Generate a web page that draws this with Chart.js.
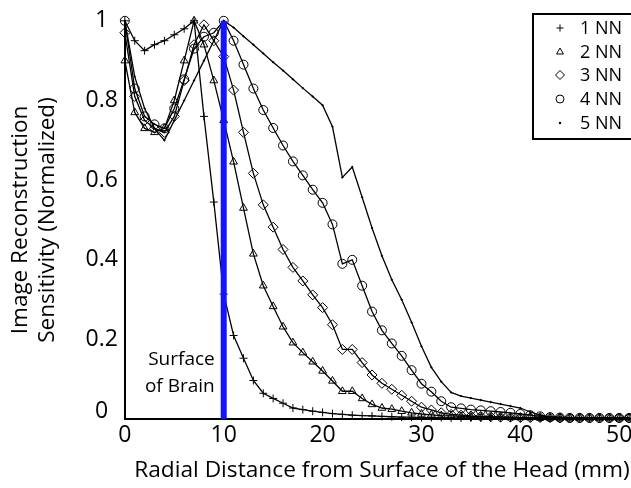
<!DOCTYPE html>
<html>
<head>
<meta charset="utf-8">
<script src="https://cdn.jsdelivr.net/npm/chart.js@4.4.1/dist/chart.umd.min.js"></script>
<style>
  html, body { margin: 0; padding: 0; background: #fff; overflow: hidden; }
  #wrap { position: relative; width: 645px; height: 488px; }
</style>
</head>
<body>
<div id="wrap"><canvas id="c"></canvas></div>
<script>
// ---- data ----
const distances = [0,1,2,3,4,5,6,7,8,9,10,11,12,13,14,15,16,17,18,19,20,21,22,23,24,25,26,27,28,29,30,31,32,33,34,35,36,37,38,39,40,41,42,43,44,45,46,47,48,49,50,51];
const nn1 = [1.0,0.95,0.925,0.94,0.95,0.965,0.98,1.0,0.76,0.545,0.314,0.21,0.153,0.097,0.065,0.052,0.04,0.028,0.024,0.02,0.017,0.014,0.012,0.01,0.009,0.008,0.007,0.006,0.005,0.005,0.004,0.004,0.004,0.003,0.003,0.003,0.003,0.003,0.003,0.003,0.003,0.003,0.003,0.003,0.003,0.003,0.003,0.003,0.003,0.003,0.003,0.003];
const nn2 = [0.9,0.77,0.73,0.72,0.73,0.80,0.90,1.0,0.94,0.85,0.75,0.646,0.53,0.415,0.335,0.283,0.232,0.192,0.167,0.144,0.121,0.096,0.07,0.07,0.052,0.037,0.028,0.025,0.02,0.016,0.013,0.011,0.009,0.008,0.007,0.006,0.006,0.005,0.005,0.004,0.004,0.004,0.003,0.003,0.003,0.003,0.003,0.003,0.003,0.003,0.003,0.003];
const nn3 = [0.97,0.81,0.75,0.73,0.72,0.76,0.85,0.94,0.99,0.95,0.91,0.826,0.72,0.617,0.538,0.482,0.426,0.381,0.347,0.312,0.28,0.237,0.175,0.175,0.142,0.111,0.09,0.075,0.06,0.045,0.03,0.023,0.016,0.012,0.01,0.008,0.007,0.006,0.005,0.005,0.004,0.004,0.004,0.004,0.003,0.003,0.003,0.003,0.003,0.003,0.003,0.003];
const nn4 = [1.0,0.83,0.76,0.74,0.73,0.78,0.853,0.93,0.96,0.97,1.0,0.95,0.89,0.83,0.776,0.731,0.687,0.647,0.612,0.576,0.543,0.489,0.39,0.4,0.335,0.27,0.223,0.19,0.159,0.123,0.089,0.069,0.045,0.03,0.027,0.024,0.022,0.02,0.018,0.016,0.013,0.01,0.007,0.005,0.004,0.003,0.003,0.003,0.003,0.003,0.003,0.003];
const nn5 = [1.0,0.86,0.78,0.73,0.70,0.75,0.80,0.85,0.90,0.95,1.0,0.983,0.961,0.94,0.918,0.896,0.875,0.853,0.831,0.81,0.788,0.734,0.607,0.633,0.557,0.48,0.41,0.35,0.30,0.243,0.183,0.13,0.094,0.067,0.058,0.053,0.048,0.043,0.038,0.033,0.028,0.018,0.01,0.006,0.005,0.004,0.004,0.003,0.003,0.003,0.003,0.003];
const seriesLabels = ['1 NN','2 NN','3 NN','4 NN','5 NN'];
const brainSurface = [10];          // mm
const brainLineRange = [0, 1];      // sensitivity span of the marker line
const yTickValues = [0, 0.2, 0.4, 0.6, 0.8, 1];
const yTickLabels = ['0','0.2','0.4','0.6','0.8','1'];
const xTickValues = [0, 10, 20, 30, 40, 50];
const annotationLines = ['Surface', 'of Brain'];

const FONT = '"Open Sans", "DejaVu Sans", sans-serif';
const styles = [
  { pointStyle: 'cross',    radius: 4,   fill: 'rgba(0,0,0,0)' },
  { pointStyle: 'triangle', radius: 4.5, fill: 'rgba(0,0,0,0)' },
  { pointStyle: 'rectRot',  radius: 5,   fill: 'rgba(0,0,0,0)' },
  { pointStyle: 'circle',   radius: 4.5, fill: 'rgba(0,0,0,0)' },
  { pointStyle: 'circle',   radius: 0.7, fill: '#000' }
];
const seriesData = [nn1, nn2, nn3, nn4, nn5];

const datasets = [{
  label: 'brain',
  data: brainLineRange.map(v => ({ x: brainSurface[0], y: v })),
  borderColor: '#1414ff',
  borderWidth: 6,
  pointRadius: 0,
  borderCapStyle: 'butt',
  clip: false
}];
seriesData.forEach((arr, i) => {
  datasets.push({
    label: seriesLabels[i],
    data: arr.map((v, k) => ({ x: distances[k], y: v })),
    borderColor: '#000',
    borderWidth: 1.3,
    pointStyle: styles[i].pointStyle,
    pointRadius: styles[i].radius,
    pointBorderWidth: 1,
    pointBorderColor: '#000',
    pointBackgroundColor: styles[i].fill,
    tension: 0,
    clip: {left: 10, top: 10, right: 0, bottom: 10}
  });
});

const legendPlugin = {
  id: 'boxLegend',
  afterDraw(chart) {
    const ctx = chart.ctx;
    ctx.save();
    ctx.lineWidth = 2;
    ctx.strokeStyle = '#000';
    ctx.fillStyle = '#fff';
    ctx.fillRect(533, 14, 120, 125);
    ctx.strokeRect(533, 14, 120, 125);
    const rows = [28, 52, 75, 99, 123];
    const legendRadius = [3.5, 4, 4.5, 4, 0];
    seriesLabels.forEach((lab, i) => {
      ctx.fillStyle = 'rgba(0,0,0,0)';
      ctx.strokeStyle = '#000';
      ctx.lineWidth = 1;
      if (legendRadius[i] > 0) {
        Chart.helpers.drawPoint(ctx, {
          pointStyle: styles[i].pointStyle,
          radius: legendRadius[i],
          borderWidth: 1,
          rotation: 0
        }, 560, rows[i]);
      }
      ctx.fillStyle = '#000';
      if (i === 4) { ctx.beginPath(); ctx.arc(560, rows[i], 1.2, 0, Math.PI*2); ctx.fill(); }
      ctx.font = '18px ' + FONT;
      ctx.textAlign = 'left';
      ctx.textBaseline = 'middle';
      ctx.fillText(lab, 580, rows[i] + 1);
    });
    ctx.restore();
  }
};

const annotationPlugin = {
  id: 'surfaceNote',
  afterDatasetsDraw(chart) {
    const ctx = chart.ctx;
    const xs = chart.scales.x, ys = chart.scales.y;
    ctx.save();
    ctx.font = '19px ' + FONT;
    ctx.fillStyle = '#000';
    ctx.textAlign = 'right';
    ctx.textBaseline = 'middle';
    const xr = xs.getPixelForValue(brainSurface[0]) - 9;
    ctx.fillText(annotationLines[0], xr, ys.getPixelForValue(0.149));
    ctx.fillText(annotationLines[1], xr, ys.getPixelForValue(0.083));
    ctx.restore();
  }
};

new Chart(document.getElementById('c'), {
  type: 'line',
  data: { datasets },
  plugins: [legendPlugin, annotationPlugin],
  options: {
    responsive: true,
    maintainAspectRatio: false,
    animation: false,
    events: [],
    layout: { padding: { top: 8, right: 0, left: 0, bottom: 4 } },
    plugins: { legend: { display: false }, tooltip: { enabled: false } },
    scales: {
      x: {
        type: 'linear',
        min: 0, max: 52,
        grid: { display: false, drawTicks: false },
        border: { display: true, color: '#000', width: 2 },
        afterBuildTicks: s => { s.ticks = xTickValues.map(v => ({ value: v })); },
        ticks: { color: '#000', font: { family: FONT, size: 23 }, padding: 2, maxRotation: 0 },
        title: { display: true, text: 'Radial Distance from Surface of the Head (mm)', color: '#000',
                 font: { family: FONT, size: 22.7 }, padding: { top: 6, bottom: 0 } }
      },
      y: {
        min: 0, max: 1,
        grid: { display: false, drawTicks: false },
        border: { display: true, color: '#000', width: 2 },
        afterBuildTicks: s => { s.ticks = yTickValues.map(v => ({ value: v })); },
        ticks: {
          color: '#000', padding: 7, crossAlign: 'center',
          font: (c) => ({ family: FONT, size: 23, lineHeight: (c.tick && c.tick.value === 0) ? 0.7 : 1.2 }),
          callback: (v) => {
            const lab = yTickLabels[yTickValues.indexOf(v)] ?? '';
            return v === 0 ? [lab, ''] : lab;
          }
        },
        title: { display: true, text: ['Image Reconstruction', 'Sensitivity (Normalized)'], color: '#000',
                 font: { family: FONT, size: 22.5, lineHeight: 1.2 }, padding: { top: 7.5, bottom: 17 } }
      }
    }
  }
});
</script>
</body>
</html>
